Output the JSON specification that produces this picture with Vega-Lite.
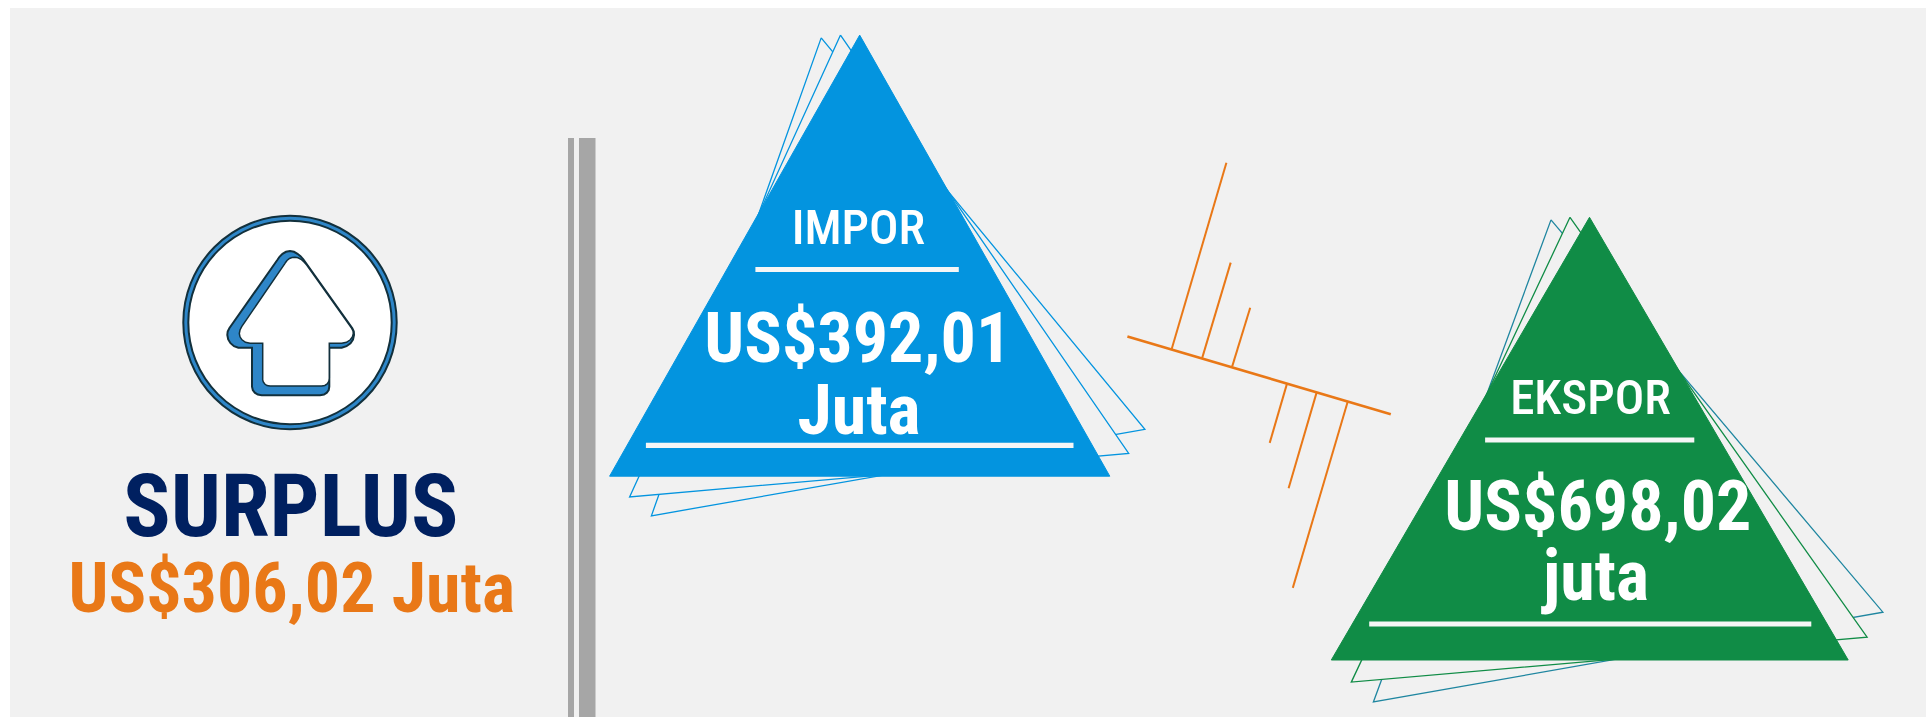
{
"$schema":"https://vega.github.io/schema/vega-lite/v6.json",
"width":1926,"height":717,"autosize":{"type":"fit","contains":"padding"},"padding":0,
"background":"#ffffff",
"config":{"view":{"stroke":null},"axis":{"disable":true}},
"datasets":{
"blocks":[
{"name":"panel","x":10,"x2":1926,"y":8,"y2":717},
{"name":"bar1","x":568,"x2":574,"y":138,"y2":717},
{"name":"bar2","x":579,"x2":595.5,"y":138,"y2":717},
{"name":"rule","x":755.4,"x2":958.8,"y":266.9,"y2":272},
{"name":"rule","x":645.9,"x2":1073.5,"y":442.8,"y2":448},
{"name":"rule","x":1485.1,"x2":1694.3,"y":437.4,"y2":442.5},
{"name":"rule","x":1369.2,"x2":1811.3,"y":621.4,"y2":626.6}
],
"shapes":[
{"s":"impor3","o":1,"x":821.2,"y":37.9},{"s":"impor3","o":2,"x":1144.9,"y":429.4},{"s":"impor3","o":3,"x":651.4,"y":515.8},{"s":"impor3","o":4,"x":821.2,"y":37.9},
{"s":"impor2","o":1,"x":840.5,"y":35.1},{"s":"impor2","o":2,"x":1128.7,"y":453.5},{"s":"impor2","o":3,"x":629.6,"y":496.9},{"s":"impor2","o":4,"x":840.5,"y":35.1},
{"s":"impor1","o":1,"x":859.7,"y":35.1},{"s":"impor1","o":2,"x":1109.8,"y":476.2},{"s":"impor1","o":3,"x":609.6,"y":476.2},{"s":"impor1","o":4,"x":859.7,"y":35.1},
{"s":"ekspor3","o":1,"x":1551,"y":219.9},{"s":"ekspor3","o":2,"x":1882.9,"y":612.2},{"s":"ekspor3","o":3,"x":1373.4,"y":702},{"s":"ekspor3","o":4,"x":1551,"y":219.9},
{"s":"ekspor2","o":1,"x":1570,"y":217.3},{"s":"ekspor2","o":2,"x":1867.1,"y":637.2},{"s":"ekspor2","o":3,"x":1351.3,"y":682.1},{"s":"ekspor2","o":4,"x":1570,"y":217.3},
{"s":"ekspor1","o":1,"x":1589.5,"y":217.3},{"s":"ekspor1","o":2,"x":1848.2,"y":660},{"s":"ekspor1","o":3,"x":1331.3,"y":660},{"s":"ekspor1","o":4,"x":1589.5,"y":217.3},
{"s":"arrowback","o":1,"x":277.3,"y":260},{"s":"arrowback","o":2,"x":279.5,"y":256.8},{"s":"arrowback","o":3,"x":282.5,"y":253.8},{"s":"arrowback","o":4,"x":286,"y":251.8},{"s":"arrowback","o":5,"x":290,"y":251},{"s":"arrowback","o":6,"x":294,"y":251.8},{"s":"arrowback","o":7,"x":297.5,"y":253.8},{"s":"arrowback","o":8,"x":300.5,"y":256.2},{"s":"arrowback","o":9,"x":303.3,"y":259.3},{"s":"arrowback","o":10,"x":352.3,"y":328.3},{"s":"arrowback","o":11,"x":353.8,"y":331.5},{"s":"arrowback","o":12,"x":354,"y":335},{"s":"arrowback","o":13,"x":353,"y":339.5},{"s":"arrowback","o":14,"x":350.5,"y":343.2},{"s":"arrowback","o":15,"x":346.5,"y":346.2},{"s":"arrowback","o":16,"x":341.7,"y":347.7},{"s":"arrowback","o":17,"x":329.3,"y":347.7},{"s":"arrowback","o":18,"x":329.3,"y":386.7},{"s":"arrowback","o":19,"x":328.7,"y":390},{"s":"arrowback","o":20,"x":326.8,"y":392.7},{"s":"arrowback","o":21,"x":324,"y":394.6},{"s":"arrowback","o":22,"x":320,"y":395.3},{"s":"arrowback","o":23,"x":261.7,"y":395.3},{"s":"arrowback","o":24,"x":257.8,"y":394.6},{"s":"arrowback","o":25,"x":254.8,"y":392.7},{"s":"arrowback","o":26,"x":252.8,"y":390},{"s":"arrowback","o":27,"x":252,"y":386.7},{"s":"arrowback","o":28,"x":252,"y":347.7},{"s":"arrowback","o":29,"x":238.3,"y":347.7},{"s":"arrowback","o":30,"x":234,"y":346.2},{"s":"arrowback","o":31,"x":230.5,"y":343.2},{"s":"arrowback","o":32,"x":228.2,"y":339.5},{"s":"arrowback","o":33,"x":227.3,"y":335},{"s":"arrowback","o":34,"x":227.7,"y":331.5},{"s":"arrowback","o":35,"x":229.3,"y":328.3},{"s":"arrowback","o":36,"x":277.3,"y":260},
{"s":"arrowfront","o":1,"x":285,"y":263.3},{"s":"arrowfront","o":2,"x":287,"y":260.5},{"s":"arrowfront","o":3,"x":289.5,"y":258.5},{"s":"arrowfront","o":4,"x":292,"y":257.6},{"s":"arrowfront","o":5,"x":295,"y":257.3},{"s":"arrowfront","o":6,"x":298,"y":257.8},{"s":"arrowfront","o":7,"x":301,"y":259.3},{"s":"arrowfront","o":8,"x":304,"y":262},{"s":"arrowfront","o":9,"x":306.7,"y":265},{"s":"arrowfront","o":10,"x":351.7,"y":328.3},{"s":"arrowfront","o":11,"x":353,"y":331},{"s":"arrowfront","o":12,"x":353.3,"y":333.5},{"s":"arrowfront","o":13,"x":352.5,"y":336.8},{"s":"arrowfront","o":14,"x":350.3,"y":339.8},{"s":"arrowfront","o":15,"x":346.5,"y":342.3},{"s":"arrowfront","o":16,"x":341.7,"y":343.3},{"s":"arrowfront","o":17,"x":329.3,"y":343.3},{"s":"arrowfront","o":18,"x":329.3,"y":378.3},{"s":"arrowfront","o":19,"x":328.8,"y":381.5},{"s":"arrowfront","o":20,"x":327.2,"y":384},{"s":"arrowfront","o":21,"x":324.8,"y":385.5},{"s":"arrowfront","o":22,"x":321.7,"y":386},{"s":"arrowfront","o":23,"x":270,"y":386},{"s":"arrowfront","o":24,"x":267,"y":385.5},{"s":"arrowfront","o":25,"x":264.8,"y":384},{"s":"arrowfront","o":26,"x":263.3,"y":382},{"s":"arrowfront","o":27,"x":262.7,"y":380},{"s":"arrowfront","o":28,"x":262.7,"y":343.3},{"s":"arrowfront","o":29,"x":250,"y":343.3},{"s":"arrowfront","o":30,"x":245.5,"y":342.3},{"s":"arrowfront","o":31,"x":242,"y":339.8},{"s":"arrowfront","o":32,"x":240,"y":336.8},{"s":"arrowfront","o":33,"x":239.3,"y":333.5},{"s":"arrowfront","o":34,"x":240,"y":330},{"s":"arrowfront","o":35,"x":241.7,"y":326.7},{"s":"arrowfront","o":36,"x":285,"y":263.3}
],
"orange":[
{"x":1127.4,"y":336.5,"x2":1390.8,"y2":414.2,"kind":"main"},
{"x":1226.4,"y":162.8,"x2":1171.7,"y2":349,"kind":"tick"},
{"x":1230.7,"y":262.6,"x2":1202.2,"y2":357.9,"kind":"tick"},
{"x":1250.2,"y":307.8,"x2":1232.2,"y2":366.4,"kind":"tick"},
{"x":1287,"y":383.6,"x2":1269.7,"y2":442.9,"kind":"tick"},
{"x":1316.5,"y":392.9,"x2":1288.6,"y2":488.2,"kind":"tick"},
{"x":1347.6,"y":402,"x2":1292.8,"y2":587.9,"kind":"tick"}
],
"circle":[{"x":290,"y":322.5}],
"labels":[
{"t":"IMPOR","k":"head","x":858.4,"y":243.5},
{"t":"EKSPOR","k":"head","x":1590.5,"y":414},
{"t":"US$392,01","k":"value","x":857.8,"y":361.6},
{"t":"Juta","k":"value","x":859,"y":433.9},
{"t":"US$698,02","k":"value","x":1597.9,"y":530},
{"t":"juta","k":"value","x":1596,"y":600},
{"t":"SURPLUS","k":"surplus","x":290.8,"y":536},
{"t":"US$306,02 Juta","k":"amount","x":291.7,"y":612}
]
},
"encoding":{
"x":{"field":"x","type":"quantitative","scale":{"domain":[0,1926],"nice":false,"zero":false},"axis":null},
"y":{"field":"y","type":"quantitative","scale":{"domain":[717,0],"nice":false,"zero":false},"axis":null}
},
"layer":[
{"data":{"name":"blocks"},"transform":[{"filter":"datum.name==='panel'"}],"mark":{"type":"rect","fill":"#f1f1f1"},"encoding":{"x2":{"field":"x2"},"y2":{"field":"y2"}}},
{"data":{"name":"blocks"},"transform":[{"filter":"datum.name==='bar1'||datum.name==='bar2'"}],"mark":{"type":"rect","fill":"#a6a6a6"},"encoding":{"x2":{"field":"x2"},"y2":{"field":"y2"}}},
{"data":{"name":"orange"},"transform":[{"filter":"datum.kind==='tick'"}],"mark":{"type":"rule","stroke":"#e97817","strokeWidth":2},"encoding":{"x2":{"field":"x2"},"y2":{"field":"y2"}}},
{"data":{"name":"orange"},"transform":[{"filter":"datum.kind==='main'"}],"mark":{"type":"rule","stroke":"#e97817","strokeWidth":2.6},"encoding":{"x2":{"field":"x2"},"y2":{"field":"y2"}}},
{"data":{"name":"shapes"},"transform":[{"filter":"datum.s==='impor3'"}],"mark":{"type":"line","stroke":"#0394df","strokeWidth":1.3,"fill":"#f1f1f1","strokeJoin":"miter"},"encoding":{"order":{"field":"o"}}},
{"data":{"name":"shapes"},"transform":[{"filter":"datum.s==='impor2'"}],"mark":{"type":"line","stroke":"#0394df","strokeWidth":1.3,"fill":"#f1f1f1","strokeJoin":"miter"},"encoding":{"order":{"field":"o"}}},
{"data":{"name":"shapes"},"transform":[{"filter":"datum.s==='impor1'"}],"mark":{"type":"line","stroke":"#0394df","strokeWidth":1,"fill":"#0394df","strokeJoin":"miter"},"encoding":{"order":{"field":"o"}}},
{"data":{"name":"shapes"},"transform":[{"filter":"datum.s==='ekspor3'"}],"mark":{"type":"line","stroke":"#1f86a0","strokeWidth":1.3,"fill":"#f1f1f1","strokeJoin":"miter"},"encoding":{"order":{"field":"o"}}},
{"data":{"name":"shapes"},"transform":[{"filter":"datum.s==='ekspor2'"}],"mark":{"type":"line","stroke":"#108c46","strokeWidth":1.3,"fill":"#f1f1f1","strokeJoin":"miter"},"encoding":{"order":{"field":"o"}}},
{"data":{"name":"shapes"},"transform":[{"filter":"datum.s==='ekspor1'"}],"mark":{"type":"line","stroke":"#108c46","strokeWidth":1,"fill":"#108c46","strokeJoin":"miter"},"encoding":{"order":{"field":"o"}}},
{"data":{"name":"blocks"},"transform":[{"filter":"datum.name==='rule'"}],"mark":{"type":"rect","fill":"#f6f6f6"},"encoding":{"x2":{"field":"x2"},"y2":{"field":"y2"}}},
{"data":{"name":"circle"},"mark":{"type":"point","shape":"circle","filled":true,"size":45540,"fill":"#2e86c8","stroke":"#12303c","strokeWidth":2,"opacity":1}},
{"data":{"name":"circle"},"mark":{"type":"point","shape":"circle","filled":true,"size":41372,"fill":"#ffffff","stroke":"#12303c","strokeWidth":2,"opacity":1}},
{"data":{"name":"shapes"},"transform":[{"filter":"datum.s==='arrowback'"}],"mark":{"type":"line","stroke":"#12303c","strokeWidth":2,"fill":"#2e86c8"},"encoding":{"order":{"field":"o"}}},
{"data":{"name":"shapes"},"transform":[{"filter":"datum.s==='arrowfront'"}],"mark":{"type":"line","stroke":"#12303c","strokeWidth":1.5,"fill":"#ffffff"},"encoding":{"order":{"field":"o"}}},
{"data":{"name":"labels"},"transform":[{"filter":"datum.k==='head'"}],"mark":{"type":"text","font":"Roboto Condensed","fontWeight":500,"fontSize":49,"fill":"#ffffff","align":"center","baseline":"alphabetic"},"encoding":{"text":{"field":"t"}}},
{"data":{"name":"labels"},"transform":[{"filter":"datum.k==='value'"}],"mark":{"type":"text","font":"Roboto Condensed","fontWeight":"bold","fontSize":70,"fill":"#ffffff","align":"center","baseline":"alphabetic"},"encoding":{"text":{"field":"t"}}},
{"data":{"name":"labels"},"transform":[{"filter":"datum.k==='surplus'"}],"mark":{"type":"text","font":"Roboto Condensed","fontWeight":"bold","fontSize":88,"fill":"#002060","align":"center","baseline":"alphabetic"},"encoding":{"text":{"field":"t"}}},
{"data":{"name":"labels"},"transform":[{"filter":"datum.k==='amount'"}],"mark":{"type":"text","font":"Roboto Condensed","fontWeight":"bold","fontSize":70,"fill":"#e97817","align":"center","baseline":"alphabetic"},"encoding":{"text":{"field":"t"}}}
]
}
